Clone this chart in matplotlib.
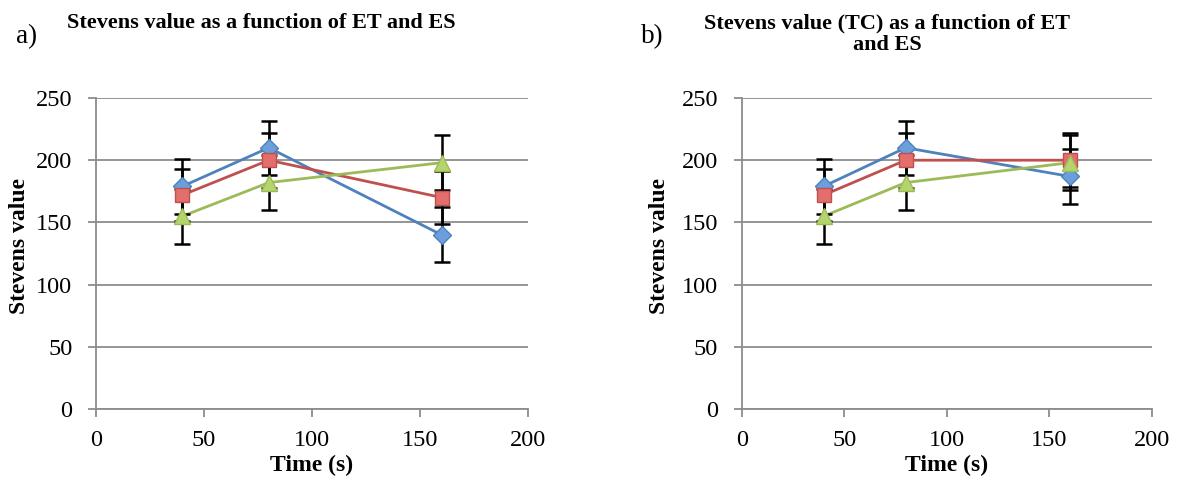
import matplotlib
matplotlib.use("Agg")
import matplotlib.pyplot as plt

time_s = [40, 80, 160]

# Panel a
a_blue = [179, 210, 140]
a_red = [172, 200, 170]
a_green = [155, 182, 198]
a_blue_err = [22, 21.5, 22]
a_red_err = [21, 22, 21.5]
a_green_err = [22, 22, 22]

# Panel b
b_blue = [179, 210, 187]
b_red = [172, 200, 200]
b_green = [155, 182, 198]
b_blue_err = [22, 21.5, 22]
b_red_err = [21, 22, 21.5]
b_green_err = [22, 22, 22]

titles = ["Stevens value as a function of ET and ES",
          "Stevens value (TC) as a function of ET\nand ES"]
panel_labels = ["a)", "b)"]
xticks = [0, 50, 100, 150, 200]
yticks = [0, 50, 100, 150, 200, 250]

plt.rcParams['font.family'] = ['Liberation Serif', 'DejaVu Serif']

fig = plt.figure(figsize=(11.79, 4.82), dpi=100)
W, H = 1179, 482

axes_px = [(96, 528), (741.7, 1151.7)]
y0_px, y1_px = 409, 98

series_style = [
    dict(color='#4F81BD', mfc='#6A9FDB', marker='D', ms=9),
    dict(color='#C0504D', mfc='#E46E6B', marker='s', ms=10),
    dict(color='#9BBB59', mfc='#B5D46E', marker='^', ms=11),
]

panels = [
    ([a_blue, a_red, a_green], [a_blue_err, a_red_err, a_green_err]),
    ([b_blue, b_red, b_green], [b_blue_err, b_red_err, b_green_err]),
]

title_pos = [(261, 13), (887, 13)]
label_pos = [(27, 37), (652, 37)]
ylabel_x = [19.5, 659]

for i, ((xl, xr), (vals, errs)) in enumerate(zip(axes_px, panels)):
    ax = fig.add_axes([xl / W, (H - y0_px) / H, (xr - xl) / W, (y0_px - y1_px) / H])
    ax.set_xlim(0, 200)
    ax.set_ylim(0, 250)
    ax.set_xticks(xticks)
    ax.set_yticks(yticks)
    ax.yaxis.grid(True, color='#8C8C8C', linewidth=1.3)
    ax.set_axisbelow(True)
    for s in ['top', 'right']:
        ax.spines[s].set_visible(False)
    for s in ['left', 'bottom']:
        ax.spines[s].set_color('#8C8C8C')
        ax.spines[s].set_linewidth(1.3)
    ax.tick_params(axis='both', direction='out', length=6, width=1.3,
                   color='#8C8C8C', labelsize=17.5)
    ax.tick_params(axis='x', pad=9)
    ax.tick_params(axis='y', pad=11)
    for v, e, st in zip(vals, errs, series_style):
        ax.errorbar(time_s, v, yerr=e, fmt='none', ecolor='black',
                    elinewidth=1.8, capsize=5.5, capthick=1.8, zorder=3)
    for v, st in zip(vals, series_style):
        ax.plot(time_s, v, color=st['color'], linewidth=2.0, zorder=2)
    for v, st in zip(vals, series_style):
        ax.plot(time_s, v, linestyle='none', marker=st['marker'],
                markersize=st['ms'], markerfacecolor=st['mfc'],
                markeredgecolor=st['color'], markeredgewidth=1.0, zorder=4)
    ax.set_xlabel("Time (s)", fontsize=17, fontweight='bold', labelpad=3)
    fig.text(ylabel_x[i] / W, 1 - 246 / H, "Stevens value", rotation=90,
             fontsize=17, fontweight='bold', ha='center', va='center')
    fig.text(title_pos[i][0] / W, 1 - title_pos[i][1] / H, titles[i],
             fontsize=16, fontweight='bold', ha='center', va='top',
             linespacing=1.15)
    fig.text(label_pos[i][0] / W, 1 - label_pos[i][1] / H, panel_labels[i],
             fontsize=19.5, ha='center', va='center')

fig.savefig("out.png", dpi=100)
